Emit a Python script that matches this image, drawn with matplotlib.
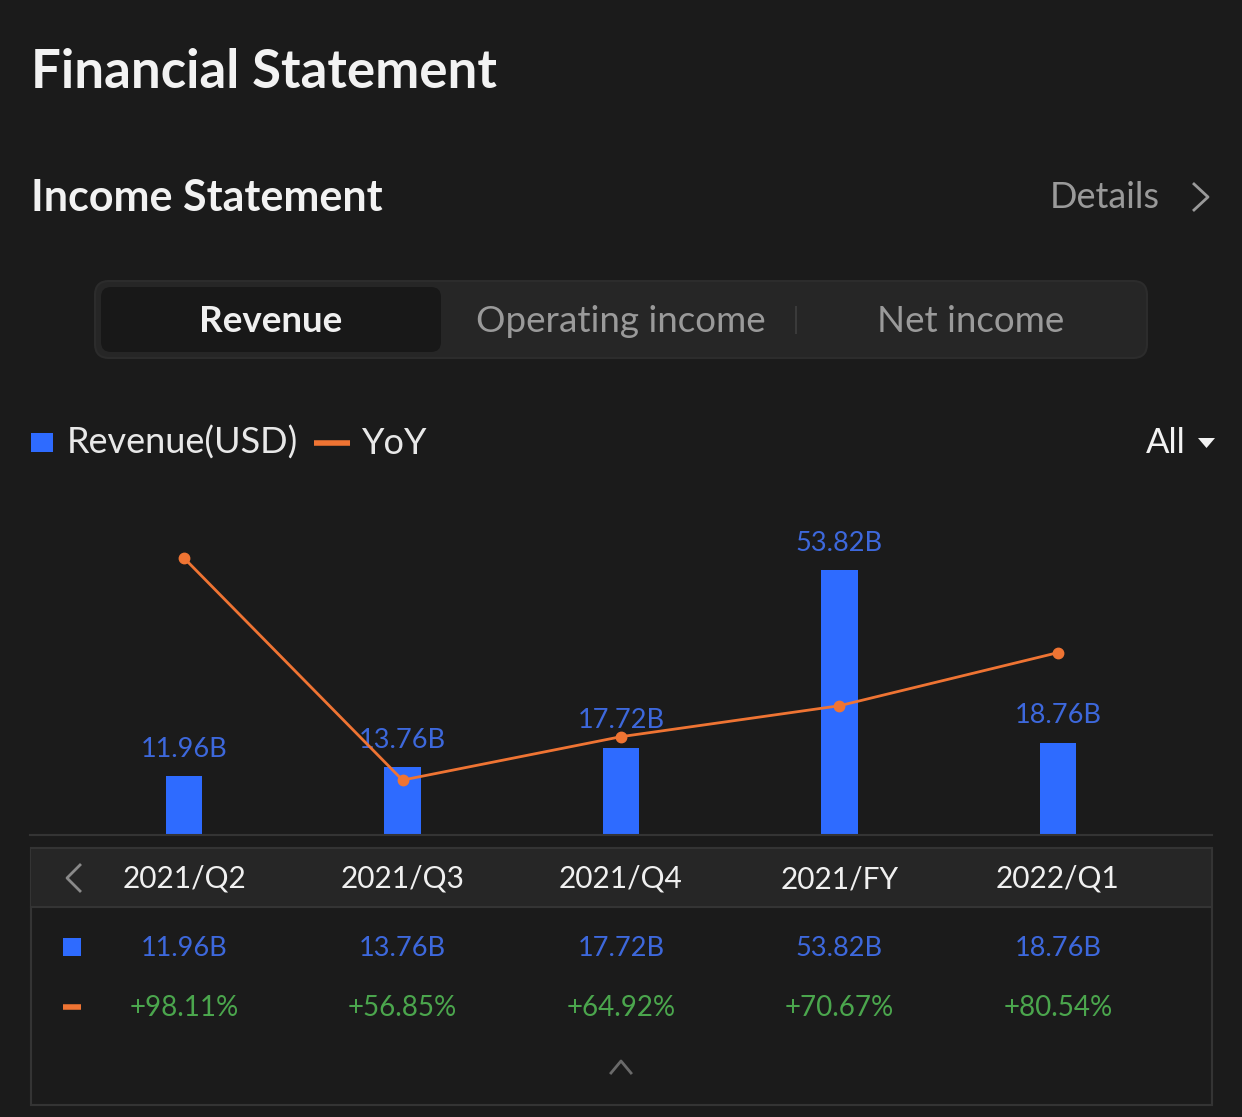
import matplotlib
matplotlib.use("Agg")
import matplotlib.pyplot as plt
from matplotlib.patches import FancyBboxPatch, Rectangle, Polygon
from matplotlib import transforms

periods = ["2021/Q2", "2021/Q3", "2021/Q4", "2021/FY", "2022/Q1"]
revenue = [11.96, 13.76, 17.72, 53.82, 18.76]   # billions USD
yoy = [98.11, 56.85, 64.92, 70.67, 80.54]        # percent
tabs = ["Revenue", "Operating income", "Net income"]

BG = "#1b1b1b"
PANEL = "#262626"
BLUE = "#2e6bff"
BLUE_TXT = "#3d68dc"
ORANGE = "#ef7433"
GREEN = "#4ba64d"
GRAY = "#9a9a9a"
LINE = "#343434"

plt.rcParams["font.family"] = ["Lato", "DejaVu Sans"]

W, H = 1242, 1117
fig = plt.figure(figsize=(W / 100, H / 100), dpi=100, facecolor=BG)

# overlay axes in pixel coordinates (y down)
over = fig.add_axes([0, 0, 1, 1])
over.set_xlim(0, W)
over.set_ylim(H, 0)
over.axis("off")
over.set_zorder(0)

# titles
over.text(31, 72, "Financial Statement", color="#f2f2f2", fontsize=38,
          fontweight="bold", va="center", ha="left")
over.text(31, 198, "Income Statement", color="#f2f2f2", fontsize=31,
          fontweight="bold", va="center", ha="left")
over.text(1160, 198, "Details", color=GRAY, fontsize=26, va="center", ha="right")
over.plot([1194, 1208, 1194], [184, 197, 210], color=GRAY, lw=2)

# segmented control
over.add_patch(FancyBboxPatch((95, 281), 1052, 77,
                              boxstyle="round,pad=0,rounding_size=14",
                              fc=PANEL, ec="#2c2c2c", lw=1.5))
over.add_patch(FancyBboxPatch((101, 287), 340, 65,
                              boxstyle="round,pad=0,rounding_size=10",
                              fc="#181818", ec="none"))
over.text(271, 321, tabs[0], color="#f0f0f0", fontsize=26.5, fontweight="bold",
          ha="center", va="center")
over.text(621, 321, tabs[1], color=GRAY, fontsize=26.5, ha="center", va="center")
over.text(971, 321, tabs[2], color=GRAY, fontsize=26.5, ha="center", va="center")
over.plot([796, 796], [307, 333], color="#3a3a3a", lw=1.5)

# legend
over.add_patch(Rectangle((31, 433), 22, 19, fc=BLUE, ec="none"))
over.text(67, 443, "Revenue(USD)", color="#e8e8e8", fontsize=26, va="center")
over.plot([314, 350], [443, 443], color=ORANGE, lw=4, solid_capstyle="butt")
over.text(362, 443, "YoY", color="#e8e8e8", fontsize=26, va="center")
over.text(1186, 443, "All", color="#f2f2f2", fontsize=25, va="center", ha="right")
over.add_patch(Polygon([[1198, 438], [1215, 438], [1206.5, 448]], fc="#f2f2f2", ec="none"))

# chart axes
left, right, top, bottom = 30, 1212, 500, 835
ax = fig.add_axes([left / W, 1 - bottom / H, (right - left) / W, (bottom - top) / H])
ax.set_facecolor("none")
ax.set_zorder(2)
x = list(range(len(periods)))
bars = ax.bar(x, revenue, width=0.165, color=BLUE, zorder=2)
ax.set_xlim(-0.705, 4.705)
ax.set_ylim(0, 68.1)
for xi, v in zip(x, revenue):
    ax.annotate(f"{v:.2f}B", (xi, v), xytext=(0, 27), textcoords="offset pixels",
                ha="center", va="center", color=BLUE_TXT, fontsize=19.5, zorder=1)
for s in ["top", "right", "left"]:
    ax.spines[s].set_visible(False)
ax.spines["bottom"].set_color(LINE)
ax.spines["bottom"].set_linewidth(1.5)
ax.set_xticks([])
ax.set_yticks([])

ax2 = ax.twinx()
ax2.set_ylim(46.65, 108.9)
ax2.plot(x, yoy, color=ORANGE, lw=2, marker="o", markersize=7.5, zorder=3)
ax2.axis("off")

# table below chart
over.add_patch(Rectangle((30.5, 848), 1181, 257, fc="none", ec=LINE, lw=1.5))
over.add_patch(Rectangle((31, 848.5), 1180, 59, fc=PANEL, ec="none"))
over.plot([31, 1211], [907, 907], color=LINE, lw=1.5)
over.plot([80, 67, 80], [865, 878, 891], color="#8a8a8a", lw=2)

col = transforms.blended_transform_factory(ax.transData, over.transData)
for xi, p, v, g in zip(x, periods, revenue, yoy):
    over.text(xi, 879, p, transform=col, ha="center", va="center",
              color="#f0f0f0", fontsize=21.5)
    over.text(xi, 948, f"{v:.2f}B", transform=col, ha="center", va="center",
              color=BLUE_TXT, fontsize=19.5)
    over.text(xi, 1008, f"+{g:.2f}%", transform=col, ha="center", va="center",
              color=GREEN, fontsize=20)
over.add_patch(Rectangle((63, 938), 18, 18, fc=BLUE, ec="none"))
over.plot([63, 81], [1007, 1007], color=ORANGE, lw=4, solid_capstyle="butt")
over.plot([611, 621, 631], [1073, 1061, 1073], color="#6a6a6a", lw=2)

fig.savefig("out.png", dpi=100, facecolor=BG)
